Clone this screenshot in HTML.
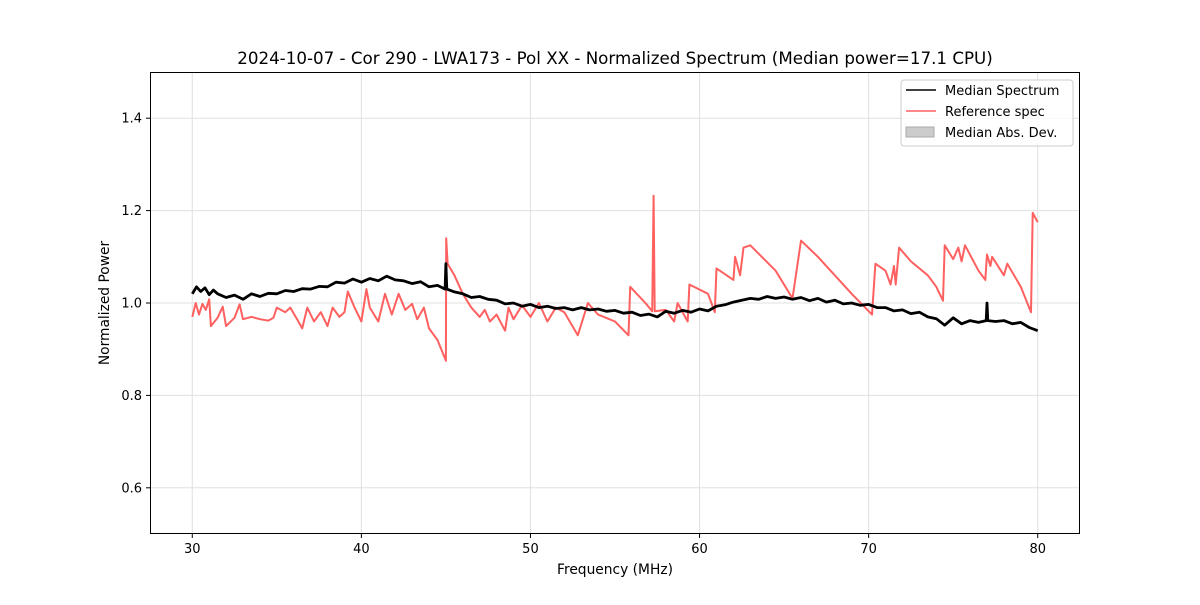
<!DOCTYPE html>
<html><head><meta charset="utf-8"><style>
body{margin:0;background:#fff;font-family:"Liberation Sans","DejaVu Sans",sans-serif;}
svg text{font-family:"DejaVu Sans","Liberation Sans",sans-serif;}
</style></head><body>
<svg id="chart" width="1200" height="600" xmlns="http://www.w3.org/2000/svg">
<rect width="1200" height="600" fill="#fff"/>
<g id="grid"></g>
<g id="series"></g>
<rect x="150.5" y="72.5" width="929" height="461" fill="none" stroke="#000" stroke-width="1"/>
<g id="ticks"></g>
<text x="615" y="64" font-size="16.7" text-anchor="middle">2024-10-07 - Cor 290 - LWA173 - Pol XX - Normalized Spectrum (Median power=17.1 CPU)</text>
<text x="615" y="574" font-size="13.8" text-anchor="middle">Frequency (MHz)</text>
<text x="109" y="303" font-size="13.8" text-anchor="middle" transform="rotate(-90 109 303)">Normalized Power</text>
<g>
<rect x="901" y="80" width="172" height="66" rx="3" fill="#fff" fill-opacity="0.8" stroke="#ccc"/>
<line x1="906" y1="90" x2="936" y2="90" stroke="#000" stroke-width="1.5"/>
<text x="945" y="95" font-size="13">Median Spectrum</text>
<line x1="906" y1="111" x2="936" y2="111" stroke="#ff6060" stroke-width="1.5"/>
<text x="945" y="116" font-size="13">Reference spec</text>
<rect x="906" y="127" width="28" height="10" fill="#ccc" stroke="#aaa"/>
<text x="945" y="137" font-size="13">Median Abs. Dev.</text>
</g>
</svg>
<script>
const xTicks=[30,40,50,60,70,80];
const yTicks=[0.6,0.8,1.0,1.2,1.4];
const medFreq=[30,30.25,30.5,30.75,31,31.25,31.5,32,32.5,33,33.5,34,34.5,35,35.5,36,36.5,37,37.5,38,38.5,39,39.5,40,40.5,41,41.5,42,42.5,43,43.5,44,44.5,44.95,45,45.05,45.5,46,46.5,47,47.5,48,48.5,49,49.5,50,50.5,51,51.5,52,52.5,53,53.5,54,54.5,55,55.5,56,56.5,57,57.5,58,58.5,59,59.5,60,60.5,61,61.5,62,62.5,63,63.5,64,64.5,65,65.5,66,66.5,67,67.5,68,68.5,69,69.5,70,70.5,71,71.5,72,72.5,73,73.5,74,74.5,75,75.5,76,76.5,76.95,77,77.05,77.5,78,78.5,79,79.5,80];
const medVal=[1.02,1.035,1.025,1.033,1.018,1.028,1.02,1.012,1.017,1.008,1.02,1.014,1.021,1.02,1.027,1.025,1.031,1.03,1.036,1.035,1.045,1.043,1.052,1.045,1.053,1.048,1.058,1.05,1.048,1.042,1.046,1.035,1.038,1.03,1.085,1.03,1.024,1.02,1.012,1.014,1.008,1.006,0.998,1.0,0.993,0.997,0.99,0.993,0.988,0.99,0.985,0.99,0.985,0.987,0.982,0.984,0.978,0.98,0.973,0.976,0.97,0.982,0.978,0.984,0.98,0.987,0.983,0.993,0.996,1.002,1.006,1.01,1.008,1.014,1.01,1.013,1.008,1.012,1.005,1.01,1.002,1.006,0.998,1.0,0.995,0.997,0.99,0.99,0.983,0.985,0.977,0.98,0.97,0.966,0.952,0.968,0.955,0.962,0.958,0.962,1.0,0.962,0.96,0.962,0.955,0.958,0.947,0.94];
const refFreq=[30,30.2,30.4,30.6,30.8,31,31.1,31.5,31.8,32,32.5,32.8,33,33.5,34,34.5,34.8,35,35.5,35.8,36.2,36.5,36.8,37.2,37.6,38,38.3,38.7,39,39.2,39.6,40,40.3,40.5,41,41.4,41.8,42.2,42.6,43,43.3,43.7,44,44.5,45,45.02,45.1,45.5,46,46.5,47,47.3,47.6,48,48.5,48.7,49,49.5,50,50.5,51,51.5,52,52.8,53.4,54,55,55.8,55.9,56.8,57.2,57.28,57.35,58,58.5,58.7,59.3,59.4,60.5,60.9,61,62,62.1,62.4,62.6,63,64.5,65.5,66,67,68,69,70.2,70.4,71,71.3,71.5,71.6,71.8,72.5,73.5,74,74.4,74.5,75,75.3,75.5,75.7,76.5,76.9,77,77.2,77.3,78,78.2,79,79.6,79.7,80];
const refVal=[0.97,1.0,0.975,0.998,0.985,1.008,0.95,0.968,0.992,0.95,0.968,0.997,0.965,0.97,0.965,0.962,0.968,0.99,0.98,0.99,0.965,0.945,0.99,0.96,0.98,0.95,0.99,0.97,0.98,1.025,0.99,0.96,1.03,0.99,0.96,1.02,0.975,1.02,0.985,0.998,0.965,0.99,0.945,0.92,0.875,1.14,1.085,1.06,1.02,0.99,0.97,0.985,0.96,0.975,0.94,0.99,0.965,0.995,0.97,1.0,0.96,0.99,0.98,0.93,1.0,0.975,0.96,0.93,1.035,1.0,0.982,1.232,0.982,0.985,0.96,1.0,0.96,1.04,1.02,0.98,1.075,1.05,1.1,1.06,1.12,1.125,1.07,1.01,1.135,1.1,1.06,1.02,0.975,1.085,1.07,1.04,1.08,1.04,1.12,1.09,1.06,1.035,1.005,1.125,1.095,1.12,1.09,1.125,1.07,1.05,1.105,1.08,1.1,1.06,1.085,1.035,0.98,1.195,1.175];

const X0=150,X1=1080,Y0=534,Y1=72,xmin=27.5,xmax=82.5,ymin=0.5,ymax=1.5;
const xs=v=>X0+(v-xmin)/(xmax-xmin)*(X1-X0);
const ys=v=>Y0-(v-ymin)/(ymax-ymin)*(Y0-Y1);
const NS="http://www.w3.org/2000/svg";
function mk(tag,attrs,parent){const e=document.createElementNS(NS,tag);for(const k in attrs)e.setAttribute(k,attrs[k]);parent.appendChild(e);return e;}
const grid=document.getElementById('grid'),ticks=document.getElementById('ticks'),series=document.getElementById('series');
xTicks.forEach(t=>{const x=xs(t);
 const g=mk('line',{x1:x,x2:x,y1:Y1,y2:Y0,stroke:'#e0e0e0','stroke-width':1},grid);
 
 
 mk('line',{x1:x,x2:x,y1:Y0,y2:Y0+4,stroke:'#000'},ticks);
 const tx=mk('text',{x:x,y:Y0+19,'font-size':13,'text-anchor':'middle'},ticks);tx.textContent=t;
 
 
});
yTicks.forEach(t=>{const y=ys(t);
 const g=mk('line',{x1:X0,x2:X1,y1:y,y2:y,stroke:'#e0e0e0','stroke-width':1},grid);
 
 
 mk('line',{x1:X0-4,x2:X0,y1:y,y2:y,stroke:'#000'},ticks);
 const tx=mk('text',{x:X0-8,y:y+4.5,'font-size':13,'text-anchor':'end'},ticks);tx.textContent=t.toFixed(1);
 
 
});
function path(f,v){return f.map((x,i)=>(i?'L':'M')+xs(x).toFixed(1)+' '+ys(v[i]).toFixed(1)).join(' ');}
const ref=mk('path',{d:path(refFreq,refVal),fill:'none',stroke:'#ff6060','stroke-width':2,'stroke-linejoin':'round'},series);


const med=mk('path',{d:path(medFreq,medVal),fill:'none',stroke:'#000','stroke-width':2.8,'stroke-linejoin':'round'},series);


</script>
</body></html>
